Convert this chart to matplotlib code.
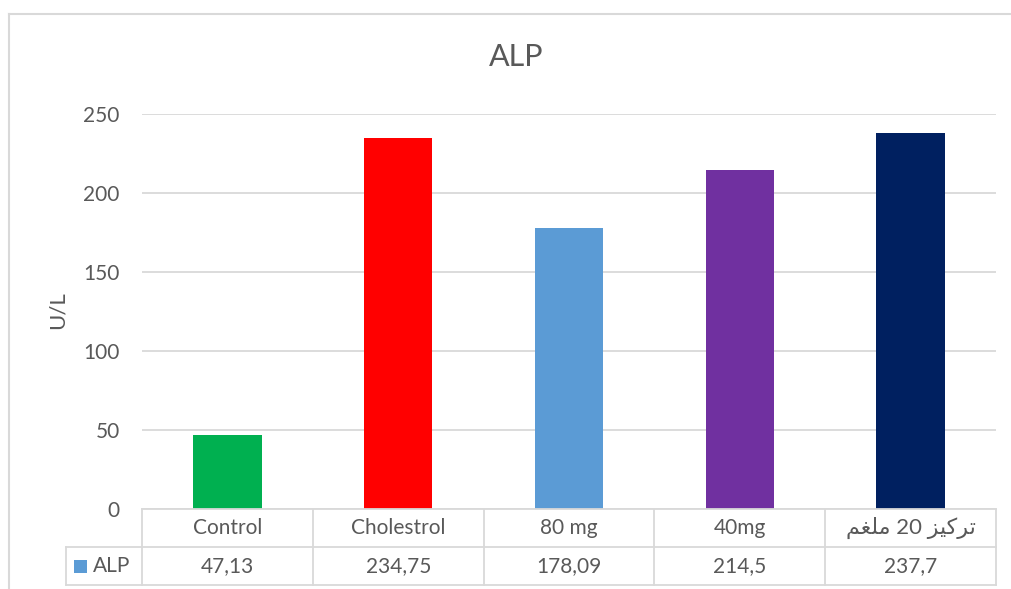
import matplotlib
matplotlib.use("Agg")
import matplotlib.pyplot as plt
import matplotlib.transforms as mtransforms
from matplotlib.lines import Line2D
from matplotlib.patches import Rectangle

# Arabic label is stored in visual order with presentation forms,
# since matplotlib does no bidi shaping: "تركيز 20 ملغم"
arabic_label = "\uFEE2\uFED0\uFEE0\uFEE3 20 \uFEB0\uFEF4\uFEDB\uFEAE\uFE97"

categories = ["Control", "Cholestrol", "80 mg", "40mg", arabic_label]
alp_values = [47.13, 234.75, 178.09, 214.5, 237.7]
value_labels = ["47,13", "234,75", "178,09", "214,5", "237,7"]
bar_colors = ["#00B050", "#FF0000", "#5B9BD5", "#7030A0", "#002060"]
y_ticks = [0, 50, 100, 150, 200, 250]

TEXT = "#595959"
GRID = "#D9D9D9"
FS = 15

plt.rcParams["font.family"] = ["Lato", "DejaVu Sans"]

fig = plt.figure(figsize=(10.11, 5.89), dpi=100)
W, H = 1011, 589
ax = fig.add_axes([142 / W, 1 - 509 / H, 854 / W, 395 / H])

x = list(range(len(categories)))
ax.bar(x, alp_values, width=0.4, color=bar_colors, zorder=3)

ax.set_xlim(-0.5, len(categories) - 0.5)
ax.set_ylim(0, 250)
ax.set_yticks(y_ticks)
ax.set_yticklabels([str(t) for t in y_ticks], fontsize=FS, color=TEXT)
ax.tick_params(axis="y", length=0, pad=16)
ax.set_xticks([])
ax.yaxis.grid(True, color=GRID, linewidth=1.3, zorder=0)
for side in ["top", "right", "left", "bottom"]:
    ax.spines[side].set_visible(False)

fig.text(57.5 / W, 1 - 310 / H, "U/L", rotation=90, ha="center", va="center",
         fontsize=16, color=TEXT)
fig.text(516 / W, 1 - 57.5 / H, "ALP", ha="center", va="center",
         fontsize=22, color=TEXT)

# data table under the plot
tr = mtransforms.blended_transform_factory(ax.transData, ax.transAxes)
row_h = 38 / 395
left_x = -0.5 - 76 / 854 * 5
right_x = len(categories) - 0.5
line_kw = dict(color=GRID, linewidth=1.3, transform=tr, clip_on=False, zorder=4)

ax.add_line(Line2D([-0.5, right_x], [0, 0], **line_kw))
ax.add_line(Line2D([left_x, right_x], [-row_h, -row_h], **line_kw))
ax.add_line(Line2D([left_x, right_x], [-2 * row_h, -2 * row_h], **line_kw))
ax.add_line(Line2D([left_x, left_x], [-row_h, -2 * row_h], **line_kw))
for i in range(len(categories) + 1):
    ax.add_line(Line2D([i - 0.5, i - 0.5], [0, -2 * row_h], **line_kw))

for i, (cat, val) in enumerate(zip(categories, value_labels)):
    cat_fs = 16 if cat == arabic_label else FS
    ax.text(i, -row_h / 2, cat, transform=tr, ha="center", va="center",
            fontsize=cat_fs, color=TEXT)
    ax.text(i, -1.5 * row_h, val, transform=tr, ha="center", va="center",
            fontsize=FS, color=TEXT)

# legend key in the first column
key_w = 13 / 854 * 5
ax.add_patch(Rectangle((-0.5 - 68 / 854 * 5, -1.5 * row_h - 6.5 / 395), key_w, 13 / 395,
                       facecolor="#5B9BD5", edgecolor="none", transform=tr,
                       clip_on=False))
ax.text(-0.5 - 49 / 854 * 5, -1.5 * row_h, "ALP", transform=tr, ha="left",
        va="center", fontsize=FS, color=TEXT)

# chart area border
fig.add_artist(Line2D([9 / W, 1], [1 - 14 / H, 1 - 14 / H], color=GRID, linewidth=1.5))
fig.add_artist(Line2D([9 / W, 9 / W], [0, 1 - 14 / H], color=GRID, linewidth=1.5))

fig.savefig("out.png", dpi=100)
